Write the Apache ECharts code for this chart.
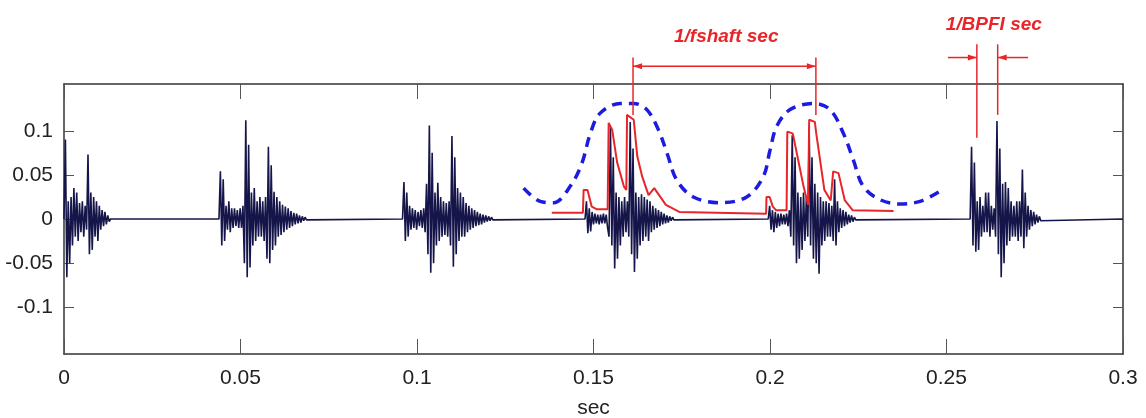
<!DOCTYPE html>
<html>
<head>
<meta charset="utf-8">
<script src="https://cdn.jsdelivr.net/npm/echarts@6/dist/echarts.min.js"></script>
<style>
  html, body { margin: 0; padding: 0; background: #fff; }
  #chart { width: 1146px; height: 418px; }
</style>
</head>
<body>
<div id="chart"></div>
<script>
// sampled signal: each burst starts with a zero sample at its start time
var SAMPLE_DT = 0.0004;
var yTicks = [-0.1, -0.05, 0, 0.05, 0.1];

var burstStarts = [0.0000, 0.0439, 0.0959, 0.1476, 0.1995, 0.2567];

var burst1 = [0,
  0.09, -0.066, 0.02, -0.05, 0.025, -0.03, 0.035, -0.02, 0.03, -0.025,
  0.018, -0.015, 0.02, -0.02, 0.015, -0.012, 0.073, -0.04, 0.03, -0.035,
  0.025, -0.02, 0.02, -0.025, 0.015, -0.012, 0.01, -0.008, 0.008, -0.006,
  0.004, -0.003, 0];

var burst2 = [0,
  0.054, -0.03, 0.045, -0.025, 0.015, -0.012, 0.02, -0.015, 0.012, -0.01,
  0.012, -0.008, 0.01, -0.01, 0.012, -0.01, 0.015, -0.05, 0.112, -0.066,
  0.084, -0.055, 0.03, -0.03, 0.035, -0.025, 0.02, -0.02, 0.025, -0.02,
  0.02, -0.025, 0.025, -0.045, 0.082, -0.05, 0.061, -0.035, 0.031, -0.03,
  0.025, -0.02, 0.02, -0.018, 0.016, -0.015, 0.014, -0.012, 0.012, -0.01,
  0.009, -0.008, 0.007, -0.006, 0.006, -0.005, 0.004, -0.004, 0.003, -0.002,
  0.002, -0.001, 0];

var burst3 = [0,
  0.042, -0.025, 0.03, -0.02, 0.015, -0.012, 0.012, -0.01, 0.01, -0.012,
  0.008, -0.008, 0.01, -0.01, 0.012, -0.015, 0.04, -0.04, 0.106, -0.061,
  0.075, -0.05, 0.03, -0.03, 0.041, -0.025, 0.025, -0.02, 0.02, -0.018,
  0.018, -0.02, 0.02, -0.03, 0.094, -0.054, 0.07, -0.04, 0.035, -0.025,
  0.03, -0.02, 0.025, -0.02, 0.018, -0.015, 0.015, -0.012, 0.012, -0.01,
  0.01, -0.008, 0.008, -0.007, 0.006, -0.006, 0.005, -0.004, 0.004, -0.003,
  0.003, -0.002, 0.002, -0.001, 0];

var burst4 = [0,
  0.02, -0.016, 0.012, -0.014, 0.008, -0.006, 0.006, -0.005, 0.005, -0.006,
  0.005, -0.005, 0.006, -0.005, 0.005, -0.01, -0.02, 0.104, -0.03, 0.07,
  -0.056, 0.03, -0.045, 0.025, -0.03, 0.02, -0.02, 0.025, -0.015, 0.02,
  -0.02, 0.11, -0.04, 0.08, -0.06, 0.03, -0.045, 0.025, -0.03, 0.028,
  -0.025, 0.025, -0.02, 0.022, -0.025, 0.02, -0.015, 0.015, -0.012, 0.012,
  -0.01, 0.01, -0.008, 0.008, -0.006, 0.006, -0.005, 0.004, -0.004, 0.003,
  -0.002, 0.002, -0.001, 0];

var burst5 = [0,
  0.015, -0.012, 0.01, -0.015, 0.008, -0.01, 0.006, -0.008, 0.006, -0.006,
  0.005, -0.006, 0.006, -0.008, 0.01, -0.02, 0.095, -0.03, 0.07, -0.05,
  0.03, -0.045, 0.025, -0.035, 0.03, -0.025, 0.025, -0.02, 0.105, -0.03,
  0.07, -0.045, 0.04, -0.05, 0.03, -0.062, 0.025, -0.03, 0.02, -0.025,
  0.02, -0.02, 0.018, -0.02, 0.015, -0.025, 0.045, -0.03, 0.02, -0.015,
  0.012, -0.01, 0.01, -0.008, 0.008, -0.006, 0.005, -0.004, 0.004, -0.003,
  0.002, -0.001, 0];

var burst6 = [0,
  0.082, -0.03, 0.064, -0.037, 0.02, -0.035, 0.025, -0.02, 0.015, -0.015,
  0.03, -0.015, 0.03, -0.02, 0.015, -0.012, 0.012, -0.02, 0.111, -0.04,
  0.08, -0.066, 0.04, -0.05, 0.042, -0.03, 0.035, -0.025, 0.02, -0.02,
  0.015, -0.02, 0.02, -0.025, 0.02, -0.02, 0.056, -0.033, 0.03, -0.02,
  0.015, -0.012, 0.01, -0.008, 0.008, -0.006, 0.005, -0.004, 0.003, -0.002,
  0];

var bursts = [burst1, burst2, burst3, burst4, burst5, burst6];

// red envelope (time, value)
var envelope = [
  [0.1382, 0.007], [0.1470, 0.007], [0.1472, 0.033], [0.1483, 0.033],
  [0.1495, 0.014], [0.1510, 0.011], [0.1540, 0.011], [0.1543, 0.109],
  [0.1553, 0.101], [0.1567, 0.064], [0.1586, 0.037], [0.1593, 0.033],
  [0.1595, 0.118], [0.1614, 0.1125], [0.1624, 0.071], [0.1638, 0.048],
  [0.1656, 0.027], [0.1672, 0.035], [0.1705, 0.016], [0.1743, 0.008],
  [0.1989, 0.006], [0.1990, 0.025], [0.1999, 0.025], [0.2008, 0.014],
  [0.2017, 0.010], [0.2047, 0.010], [0.2049, 0.099], [0.2064, 0.097],
  [0.2066, 0.094], [0.2095, 0.037], [0.2108, 0.016], [0.2111, 0.1125],
  [0.2127, 0.110], [0.2131, 0.097], [0.2154, 0.033], [0.2172, 0.021],
  [0.2179, 0.054], [0.2194, 0.052], [0.2212, 0.021], [0.2234, 0.010],
  [0.2350, 0.009]
];

// blue dashed smooth envelope (time, value)
var smoothEnv = [
  [0.1302, 0.035], [0.1349, 0.020], [0.1387, 0.0185], [0.1434, 0.037],
  [0.1467, 0.063], [0.1491, 0.097], [0.1519, 0.120], [0.1576, 0.131],
  [0.1613, 0.131], [0.1651, 0.124], [0.1684, 0.101], [0.1708, 0.075],
  [0.1736, 0.044], [0.1783, 0.025], [0.1859, 0.0185], [0.1934, 0.025],
  [0.1981, 0.048], [0.2000, 0.078], [0.2019, 0.105], [0.2057, 0.124],
  [0.2123, 0.131], [0.2170, 0.124], [0.2208, 0.097], [0.2236, 0.067],
  [0.2264, 0.037], [0.2311, 0.022], [0.2368, 0.017], [0.2425, 0.020],
  [0.2479, 0.031]
];

// annotation positions (time, value)
var shaftLines = [[0.1612, 0.183, 0.118], [0.2130, 0.183, 0.118]];
var shaftArrowY = 0.173;
var shaftLabel = ['1/fshaft sec', 0.1876, 0.206];
var bpfiLines = [[0.2586, 0.198, 0.092], [0.2645, 0.198, 0.118]];
var bpfiArrowY = 0.183;
var bpfiArrowTails = [0.2504, 0.2731];
var bpfiLabel = ['1/BPFI sec', 0.2634, 0.2197];

var signal = [];
bursts.forEach(function (b, k) {
  for (var i = 0; i < b.length; i++) {
    signal.push([burstStarts[k] + i * SAMPLE_DT, b[i]]);
  }
});
signal.push([0.3, 0]);

var chart = echarts.init(document.getElementById('chart'));
var AX = '#333';
var FONT = 'Liberation Sans';

var option = {
  animation: false,
  backgroundColor: '#fff',
  grid: { left: 64, right: 23, top: 84, bottom: 64, outerBoundsMode: 'none', containLabel: false },
  xAxis: [{
    type: 'value', min: 0, max: 0.3, interval: 0.05, position: 'bottom',
    name: 'sec', nameLocation: 'middle', nameGap: 44,
    nameTextStyle: { fontFamily: FONT, fontSize: 21, color: '#222' },
    axisLine: { show: true, onZero: false, lineStyle: { color: AX, width: 1.5 } },
    axisTick: { inside: true, length: 15, lineStyle: { color: '#555' } },
    axisLabel: { margin: 14, fontFamily: FONT, fontSize: 21, color: '#222' },
    splitLine: { show: false }
  }, {
    type: 'value', min: 0, max: 0.3, interval: 0.05, position: 'top',
    axisLine: { show: true, onZero: false, lineStyle: { color: AX, width: 1.5 } },
    axisTick: { inside: true, length: 15, lineStyle: { color: '#555' } },
    axisLabel: { show: false },
    splitLine: { show: false }
  }],
  yAxis: [{
    type: 'value', min: -0.153, max: 0.153, position: 'left',
    axisLine: { show: true, onZero: false, lineStyle: { color: AX, width: 1.5 } },
    axisTick: { inside: true, length: 10, customValues: yTicks, lineStyle: { color: '#555' } },
    axisLabel: { margin: 11, customValues: yTicks, fontFamily: FONT, fontSize: 21, color: '#222' },
    splitLine: { show: false }
  }, {
    type: 'value', min: -0.153, max: 0.153, position: 'right',
    axisLine: { show: true, onZero: false, lineStyle: { color: AX, width: 1.5 } },
    axisTick: { inside: true, length: 10, customValues: yTicks, lineStyle: { color: '#555' } },
    axisLabel: { show: false },
    splitLine: { show: false }
  }],
  series: [{
    type: 'line', data: signal, showSymbol: false,
    lineStyle: { color: '#15154a', width: 1.6 }
  }, {
    type: 'line', data: smoothEnv, showSymbol: false, smooth: 0.35,
    lineStyle: { color: '#1c1ce0', width: 3.5, type: [10, 7] }
  }, {
    type: 'line', data: envelope, showSymbol: false,
    lineStyle: { color: '#e8262a', width: 2 }
  }]
};
chart.setOption(option);

// red annotations above the plot, placed through the axis scales
var RED = '#e8262a';
function px(t, v) { return chart.convertToPixel({ xAxisIndex: 0, yAxisIndex: 0 }, [t, v]); }
function seg(a, b) {
  return { type: 'line', shape: { x1: a[0], y1: a[1], x2: b[0], y2: b[1] },
    style: { stroke: RED, lineWidth: 1.5 }, z: 100 };
}
function head(tip, dir) {
  return { type: 'polygon', z: 100, style: { fill: RED },
    shape: { points: [tip, [tip[0] - dir * 9, tip[1] - 3], [tip[0] - dir * 9, tip[1] + 3]] } };
}
function label(l) {
  var p = px(l[1], l[2]);
  return { type: 'text', x: p[0], y: p[1], z: 100,
    style: { text: l[0], fill: RED, font: 'italic bold 19px ' + FONT, align: 'center', verticalAlign: 'middle' } };
}

var g = [];
shaftLines.concat(bpfiLines).forEach(function (l) {
  g.push(seg(px(l[0], l[1]), px(l[0], l[2])));
});
var sa = px(shaftLines[0][0], shaftArrowY), sb = px(shaftLines[1][0], shaftArrowY);
g.push(seg(sa, sb), head(sa, -1), head(sb, 1));
var ba = px(bpfiLines[0][0], bpfiArrowY), bt = px(bpfiArrowTails[0], bpfiArrowY);
var bb = px(bpfiLines[1][0], bpfiArrowY), bu = px(bpfiArrowTails[1], bpfiArrowY);
g.push(seg(bt, ba), head(ba, 1), seg(bu, bb), head(bb, -1));
g.push(label(shaftLabel), label(bpfiLabel));
chart.setOption({ graphic: g });
</script>
</body>
</html>
